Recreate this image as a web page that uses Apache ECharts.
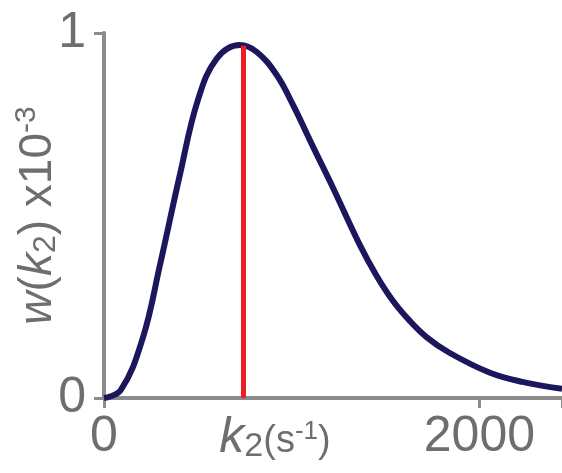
<!DOCTYPE html>
<html lang="en">
<head>
    <meta charset="UTF-8">
    <title>w(k2)</title>
    <style>
        html, body { margin: 0; padding: 0; background: #fff; }
        .chart { width: 562px; height: 473px; }
    </style>
</head>
<body>
<div class="chart" id="showData"></div>
<script src="https://cdn.jsdelivr.net/npm/echarts@6/dist/echarts.min.js"></script>
<script>
    // k2 values (s^-1) and the distribution w(k2) x10^-3
    var kValues = [0, 90, 207, 298, 404, 500, 601, 723, 814, 920, 1005, 1112, 1218, 1362, 1452, 1537, 1628, 1718, 1840, 2053, 2229, 2440];
    var wValues = [0, 0.022, 0.165, 0.364, 0.611, 0.816, 0.930, 0.967, 0.948, 0.885, 0.805, 0.690, 0.578, 0.420, 0.335, 0.268, 0.212, 0.167, 0.124, 0.070, 0.044, 0.025];
    var xTicks = [0, 2000];
    var yTicks = [0, 1];
    var peakK = 740;
    var peakW = 0.965;

    var data = [];
    for (var i = 0; i < kValues.length; i++) {
        data.push([kValues[i], wValues[i]]);
    }

    var grey = '#8c8c8c';
    var labelGrey = '#6e6e6e';
    var font = 'Liberation Sans, Arial, sans-serif';

    var option = {
        animation: false,
        grid: { left: 104, right: 0, top: 33, bottom: 75, outerBoundsMode: 'none', containLabel: false },
        xAxis: {
            type: 'value',
            min: 0,
            max: 2440,
            interval: xTicks[1] - xTicks[0],
            splitLine: { show: false },
            axisLine: { lineStyle: { color: grey, width: 4 } },
            axisTick: { length: 10, lineStyle: { color: grey, width: 3 } },
            axisLabel: { color: labelGrey, fontSize: 50, fontFamily: font, margin: 14,
                formatter: function (v) { return xTicks.indexOf(v) >= 0 ? v : ''; } },
            name: '{k|k}{sub|2}{n|(s}{sup|-1}{n|)}',
            nameLocation: 'middle',
            nameGap: 14,
            nameMoveOverlap: false,
            nameTextStyle: {
                verticalAlign: 'top',
                padding: [0, 116, 0, 0],
                rich: {
                    k: { fontSize: 50, fontStyle: 'italic', color: labelGrey, fontFamily: font },
                    sub: { fontSize: 34, color: labelGrey, fontFamily: font, padding: [18, 0, 0, 0] },
                    n: { fontSize: 38, color: labelGrey, fontFamily: font, padding: [8, 0, 0, 0] },
                    sup: { fontSize: 26, color: labelGrey, fontFamily: font, padding: [0, 0, 12, 0] }
                }
            }
        },
        yAxis: {
            type: 'value',
            min: 0,
            max: 1,
            interval: yTicks[1] - yTicks[0],
            splitLine: { show: false },
            axisLine: { show: true, lineStyle: { color: grey, width: 4 } },
            axisTick: { show: true, length: 10, lineStyle: { color: grey, width: 3 } },
            axisLabel: { color: labelGrey, fontSize: 50, fontFamily: font, margin: 18 },
            name: '{w|w}{n|(}{w|k}{sub|2}{n|) x10}{sup|-3}',
            nameLocation: 'middle',
            nameGap: 40,
            nameMoveOverlap: false,
            nameTextStyle: {
                rich: {
                    w: { fontSize: 46, fontStyle: 'italic', color: labelGrey, fontFamily: font },
                    n: { fontSize: 46, color: labelGrey, fontFamily: font },
                    sub: { fontSize: 32, color: labelGrey, fontFamily: font, padding: [16, 0, 0, 0] },
                    sup: { fontSize: 30, color: labelGrey, fontFamily: font, padding: [0, 0, 22, 0] }
                }
            }
        },
        series: [{
            type: 'line',
            data: data,
            smooth: 0.4,
            showSymbol: false,
            lineStyle: { color: '#1c175c', width: 6 },
            z: 3,
            markLine: {
                silent: true,
                symbol: 'none',
                label: { show: false },
                lineStyle: { color: '#ee1c24', width: 5, type: 'solid' },
                data: [[{ coord: [peakK, 0] }, { coord: [peakK, peakW] }]]
            }
        }]
    };

    var mychart = echarts.init(document.getElementById('showData'));
    mychart.setOption(option);
</script>
</body>
</html>
